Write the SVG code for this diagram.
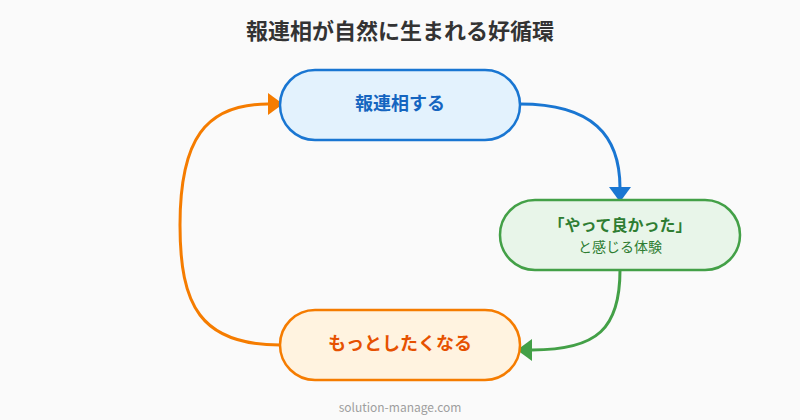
<svg xmlns="http://www.w3.org/2000/svg" width="800" height="420" viewBox="0 0 800 420">
<defs>
<style>
text{font-family:"Noto Sans CJK JP","Noto Sans",sans-serif;text-anchor:middle}
.t{font-size:22px;font-weight:700;fill:#333}
.n{stroke-width:2.5}
.lbl{font-size:18px;font-weight:700}
.c{fill:none;stroke-width:3}
</style>
</defs>
<rect width="800" height="420" fill="#fafafa"/>
<text class="t" x="400" y="39">報連相が自然に生まれる好循環</text>
<g id="connectors">
<path class="c" stroke="#1976d2" d="M520,104 C592,104 620,135 620,188"/>
<path d="M609,187 L631,187 L620,202 Z" fill="#1976d2"/>
<path class="c" stroke="#43a047" d="M620,270 C620,328 598,350 532,350"/>
<path d="M532,339 L532,361 L517,350 Z" fill="#43a047"/>
<path class="c" stroke="#f57c00" d="M280,345 C200,345 180,305 180,225 C180,140 205,104 268,104"/>
<path d="M268,93 L268,115 L283,104 Z" fill="#f57c00"/>
</g>
<g id="node1">
<rect class="n" x="280" y="70" width="240" height="70" rx="35" fill="#e3f2fd" stroke="#1976d2"/>
<text class="lbl" x="400" y="110" fill="#1565c0">報連相する</text>
</g>
<g id="node2">
<rect class="n" x="500" y="200" width="240" height="70" rx="35" fill="#e8f5e9" stroke="#43a047"/>
<text x="620" y="231" font-size="16" font-weight="700" fill="#2e7d32">「やって良かった」</text>
<text x="620" y="252" font-size="14" fill="#2e7d32">と感じる体験</text>
</g>
<g id="node3">
<rect class="n" x="280" y="310" width="240" height="70" rx="35" fill="#fff3e0" stroke="#f57c00"/>
<text class="lbl" x="400" y="350" fill="#e65100">もっとしたくなる</text>
</g>
<text x="400" y="412" font-size="12" fill="#9e9e9e">solution-manage.com</text>
</svg>
